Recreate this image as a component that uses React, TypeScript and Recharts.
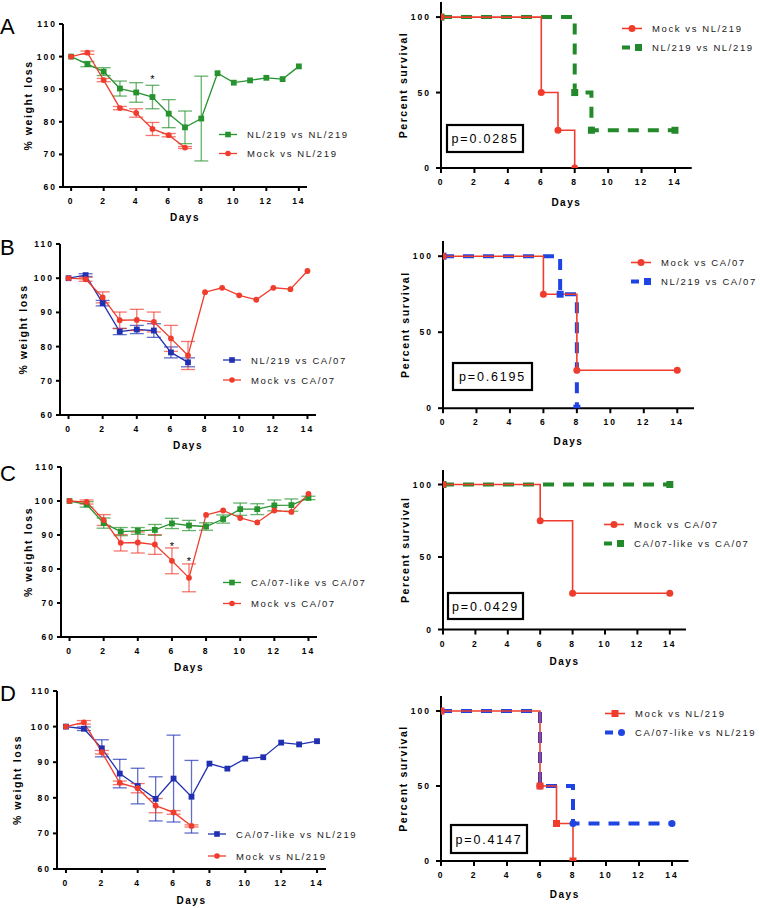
import React from 'react';
import { LineChart, Line, XAxis, YAxis, ErrorBar, Legend } from 'recharts';

const FONT = '"Liberation Sans", Arial, sans-serif';

const RED = '#f03c2d';
const GREEN = '#27932f';
const BLUE = '#2030b0';
const SURV_GREEN = '#23892a';
const SURV_BLUE = '#1f44e4';

const days = [0, 1, 2, 3, 4, 5, 6, 7, 8, 9, 10, 11, 12, 13, 14];
const dayTicks = [0, 2, 4, 6, 8, 10, 12, 14];
const weightTicks = [60, 70, 80, 90, 100, 110];
const survTicks = [0, 50, 100];

// body weight (% of day 0), mean and error
const nlNl219Mean = [100, 97.7, 95.4, 90.2, 89.0, 87.6, 82.5, 78.3, 81.0, 94.9, 92.0, 92.7, 93.5, 93.1, 97.0];
const nlNl219Err = [null, 0.8, 1.2, 2.3, 3.0, 3.6, 4.3, 5.0, 13.0, null, null, null, null, null, null];
const mockNl219Mean = [100, 101.2, 92.8, 84.2, 82.7, 77.8, 75.9, 72.1];
const mockNl219Err = [null, 0.5, 0.5, 0.5, 1.3, 2.0, 0.5, 0.3];
const nlCa07Mean = [100, 100.9, 92.7, 84.4, 85.0, 84.7, 78.3, 75.4];
const nlCa07Err = [null, 0.4, 0.8, 0.9, 1.2, 2.0, 1.6, 1.3];
const mockCa07Mean = [100, 99.7, 94.4, 87.7, 87.8, 87.2, 82.4, 77.4, 95.9, 97.2, 95.0, 93.7, 97.2, 96.8, 102.1];
const mockCa07Err = [null, 0.6, 1.6, 2.4, 3.1, 2.9, 3.8, 4.1, null, null, null, null, null, null, null];
const likeCa07Mean = [100, 99.0, 93.5, 91.0, 91.2, 91.5, 93.4, 92.8, 92.5, 94.7, 97.6, 97.6, 98.7, 98.8, 100.9];
const likeCa07Err = [null, 0.8, 1.5, 1.2, 1.0, 1.6, 1.5, 1.5, 1.1, 1.2, 1.8, 1.6, 1.6, 1.8, 0.5];
const likeNl219Mean = [100, 99.4, 93.9, 86.8, 83.3, 79.7, 85.4, 80.3, 89.6, 88.2, 91.0, 91.4, 95.5, 95.0, 95.9];
const likeNl219Err = [null, 0.5, 2.4, 4.0, 5.0, 6.2, 12.2, 10.2, null, null, null, null, null, null, null];

// survival steps
const mockNl219SurvDays = [0, 6, 7, 8];
const mockNl219Surv = [100, 50, 25, 0];
const nlNl219SurvDays = [0, 8, 9, 14];
const nlNl219Surv = [100, 50, 25, 25];
const mockCa07SurvDays = [0, 6, 8, 14];
const mockCa07Surv = [100, 75, 25, 25];
const nlCa07SurvDays = [0, 7, 8];
const nlCa07Surv = [100, 75, 0];
const likeCa07SurvDays = [0, 14];
const likeCa07Surv = [100, 100];
const likeNl219SurvDays = [0, 6, 8, 14];
const likeNl219Surv = [100, 50, 25, 25];

// significance marks
const starsADays = [5];
const starsAVals = [93.6];
const starsCDays = [6, 7];
const starsCVals = [87.3, 82.9];

const pValues = ['p=0.0285', 'p=0.6195', 'p=0.0429', 'p=0.4147'];
const panelLetters = ['A', 'B', 'C', 'D'];

type Row = { day: number; v: number; e?: number | null };
type Series = {
  name: string;
  color: string;
  rows: Row[];
  shape: 'square' | 'circle';
  style: 'weight' | 'solid' | 'dashed';
};
type PanelDef = {
  kind: 'weight' | 'surv';
  plotLeft: number;
  plotTop: number;
  plotW: number;
  plotH: number;
  right: number;
  titleDx: number;
  daysDy: number;
  legendX: number;
  legendY: number;
  rowH: number;
  series: Series[];
  stars?: Row[];
};

const toRows = (mean: number[], err: (number | null)[]): Row[] =>
  mean.map((v, i) => ({ day: days[i], v, e: err[i] }));
const toSteps = (d: number[], s: number[]): Row[] => d.map((day, i) => ({ day, v: s[i] }));

const panels: PanelDef[] = [
  {
    kind: 'weight', plotLeft: 63, plotTop: 24, plotW: 244, plotH: 163, right: 380,
    titleDx: 35, daysDy: 33.5, legendX: 219, legendY: 134, rowH: 19,
    series: [
      { name: 'NL/219 vs NL/219', color: GREEN, rows: toRows(nlNl219Mean, nlNl219Err), shape: 'square', style: 'weight' },
      { name: 'Mock vs NL/219', color: RED, rows: toRows(mockNl219Mean, mockNl219Err), shape: 'circle', style: 'weight' },
    ],
    stars: toSteps(starsADays, starsAVals),
  },
  {
    kind: 'surv', plotLeft: 441, plotTop: 2, plotW: 250.7, plotH: 166, right: 760,
    titleDx: 38, daysDy: 37.5, legendX: 622, legendY: 28, rowH: 19,
    series: [
      { name: 'Mock vs NL/219', color: RED, rows: toSteps(mockNl219SurvDays, mockNl219Surv), shape: 'circle', style: 'solid' },
      { name: 'NL/219 vs NL/219', color: SURV_GREEN, rows: toSteps(nlNl219SurvDays, nlNl219Surv), shape: 'square', style: 'dashed' },
    ],
  },
  {
    kind: 'weight', plotLeft: 59.5, plotTop: 244, plotW: 256, plotH: 171, right: 380,
    titleDx: 37, daysDy: 33.5, legendX: 223, legendY: 360, rowH: 20,
    series: [
      { name: 'NL/219 vs CA/07', color: BLUE, rows: toRows(nlCa07Mean, nlCa07Err), shape: 'square', style: 'weight' },
      { name: 'Mock vs CA/07', color: RED, rows: toRows(mockCa07Mean, mockCa07Err), shape: 'circle', style: 'weight' },
    ],
  },
  {
    kind: 'surv', plotLeft: 443, plotTop: 240.8, plotW: 251, plotH: 167.2, right: 760,
    titleDx: 38, daysDy: 36.5, legendX: 631, legendY: 263, rowH: 19,
    series: [
      { name: 'Mock vs CA/07', color: RED, rows: toSteps(mockCa07SurvDays, mockCa07Surv), shape: 'circle', style: 'solid' },
      { name: 'NL/219 vs CA/07', color: SURV_BLUE, rows: toSteps(nlCa07SurvDays, nlCa07Surv), shape: 'square', style: 'dashed' },
    ],
  },
  {
    kind: 'weight', plotLeft: 60.5, plotTop: 467, plotW: 256, plotH: 170, right: 380,
    titleDx: 33, daysDy: 33.5, legendX: 223, legendY: 582, rowH: 21,
    series: [
      { name: 'CA/07-like vs CA/07', color: GREEN, rows: toRows(likeCa07Mean, likeCa07Err), shape: 'square', style: 'weight' },
      { name: 'Mock vs CA/07', color: RED, rows: toRows(mockCa07Mean, mockCa07Err), shape: 'circle', style: 'weight' },
    ],
    stars: toSteps(starsCDays, starsCVals),
  },
  {
    kind: 'surv', plotLeft: 443, plotTop: 469.5, plotW: 243, plotH: 159.5, right: 760,
    titleDx: 38, daysDy: 35.5, legendX: 604, legendY: 524, rowH: 19,
    series: [
      { name: 'Mock vs CA/07', color: RED, rows: toSteps(mockCa07SurvDays, mockCa07Surv), shape: 'circle', style: 'solid' },
      { name: 'CA/07-like vs CA/07', color: SURV_GREEN, rows: toSteps(likeCa07SurvDays, likeCa07Surv), shape: 'square', style: 'dashed' },
    ],
  },
  {
    kind: 'weight', plotLeft: 57, plotTop: 691, plotW: 269, plotH: 178, right: 380,
    titleDx: 40, daysDy: 34.5, legendX: 208, legendY: 834, rowH: 22,
    series: [
      { name: 'CA/07-like vs NL/219', color: BLUE, rows: toRows(likeNl219Mean, likeNl219Err), shape: 'square', style: 'weight' },
      { name: 'Mock vs NL/219', color: RED, rows: toRows(mockNl219Mean, mockNl219Err), shape: 'circle', style: 'weight' },
    ],
  },
  {
    kind: 'surv', plotLeft: 441, plotTop: 696, plotW: 247.5, plotH: 165, right: 760,
    titleDx: 38, daysDy: 36.5, legendX: 605, legendY: 713, rowH: 19,
    series: [
      { name: 'Mock vs NL/219', color: RED, rows: toSteps(mockNl219SurvDays, mockNl219Surv), shape: 'square', style: 'solid' },
      { name: 'CA/07-like vs NL/219', color: SURV_BLUE, rows: toSteps(likeNl219SurvDays, likeNl219Surv), shape: 'circle', style: 'dashed' },
    ],
  },
];

// p-value boxes and panel letters (page coordinates)
const pBoxes = [
  { x: 447, y: 125, w: 76, h: 27 },
  { x: 453, y: 363, w: 79, h: 27 },
  { x: 448, y: 593, w: 75, h: 26 },
  { x: 451, y: 825, w: 76, h: 28 },
];
const letterY = [34, 255, 481, 701];

const makeDot = (shape: 'square' | 'circle', color: string, size: number) => (props: any) => {
  const { cx, cy, index } = props;
  if (cx == null || cy == null) return <g key={`d${index}`} />;
  return shape === 'square' ? (
    <rect key={`d${index}`} x={cx - size / 2} y={cy - size / 2} width={size} height={size} fill={color} />
  ) : (
    <circle key={`d${index}`} cx={cx} cy={cy} r={size / 2} fill={color} />
  );
};

const starDot = (props: any) => (
  <text key={`s${props.index}`} x={props.cx} y={props.cy + 5.5} textAnchor="middle" fontSize={11} fontFamily={FONT} fill="#000">
    *
  </text>
);

const DaysTitle = (props: any) => {
  const { viewBox, dy } = props;
  if (!viewBox) return null;
  return (
    <text
      x={viewBox.x + viewBox.width / 2}
      y={viewBox.y + dy}
      textAnchor="middle"
      fontSize={10}
      fontWeight={700}
      letterSpacing={1.5}
      fontFamily={FONT}
      fill="#000"
    >
      Days
    </text>
  );
};

const YTitle = (props: any) => {
  const { viewBox, dx, text, top, h } = props;
  if (!viewBox) return null;
  const cx = viewBox.x + viewBox.width - dx;
  const cy = top + h / 2;
  return (
    <text
      x={cx}
      y={cy}
      transform={`rotate(-90 ${cx} ${cy})`}
      textAnchor="middle"
      dominantBaseline="central"
      fontSize={10.5}
      fontWeight={700}
      letterSpacing={1.6}
      fontFamily={FONT}
      fill="#000"
    >
      {text}
    </text>
  );
};

function LegendBox({ series, rowH, surv }: { series: Series[]; rowH: number; surv: boolean }) {
  return (
    <div style={{ fontFamily: FONT, fontSize: 9.5, letterSpacing: 1.6, color: '#1a1a1a' }}>
      {series.map((s) => {
        const mid = rowH / 2;
        let swatch;
        if (!surv) {
          swatch = (
            <svg width={28} height={rowH} style={{ flex: 'none' }}>
              <line x1={0} x2={18} y1={mid} y2={mid} stroke={s.color} strokeWidth={1.3} />
              {s.shape === 'square' ? (
                <rect x={6.2} y={mid - 2.8} width={5.6} height={5.6} fill={s.color} />
              ) : (
                <circle cx={9} cy={mid} r={2.8} fill={s.color} />
              )}
            </svg>
          );
        } else if (s.style === 'dashed') {
          swatch = (
            <svg width={30} height={rowH} style={{ flex: 'none' }}>
              <line x1={0} x2={8} y1={mid} y2={mid} stroke={s.color} strokeWidth={4} />
              {s.shape === 'square' ? (
                <rect x={13} y={mid - 3.5} width={7} height={7} fill={s.color} />
              ) : (
                <circle cx={16.5} cy={mid} r={3.5} fill={s.color} />
              )}
            </svg>
          );
        } else {
          swatch = (
            <svg width={30} height={rowH} style={{ flex: 'none' }}>
              <line x1={0} x2={20} y1={mid} y2={mid} stroke={s.color} strokeWidth={1.6} />
              {s.shape === 'square' ? (
                <rect x={6.5} y={mid - 3.5} width={7} height={7} fill={s.color} />
              ) : (
                <circle cx={10} cy={mid} r={3.5} fill={s.color} />
              )}
            </svg>
          );
        }
        return (
          <div key={s.name} style={{ display: 'flex', alignItems: 'center', height: rowH, whiteSpace: 'nowrap' }}>
            {swatch}
            <span>{s.name}</span>
          </div>
        );
      })}
    </div>
  );
}

function Panel({ p }: { p: PanelDef }) {
  const weight = p.kind === 'weight';
  const YW = 50;
  const MT = 8;
  const XH = 45;
  const chartLeft = p.plotLeft - YW;
  const chartTop = p.plotTop - MT;
  const width = p.right - chartLeft;
  const height = MT + p.plotH + XH;
  const tickStyle = { fontSize: 8.5, fontWeight: 700, fill: '#000', fontFamily: FONT, letterSpacing: 2 };
  const axisStroke = { stroke: '#000', strokeWidth: 2 };
  // dashed survival curves go underneath the solid ones
  const drawOrder = weight ? p.series : [...p.series].sort((a, b) => (a.style === 'dashed' ? 0 : 1) - (b.style === 'dashed' ? 0 : 1));

  return (
    <div style={{ position: 'absolute', left: chartLeft, top: chartTop }}>
      <LineChart
        width={width}
        height={height}
        margin={{ top: MT, right: p.right - p.plotLeft - p.plotW, bottom: 0, left: 0 }}
      >
        <XAxis
          type="number"
          dataKey="day"
          domain={weight ? [-0.5, 14.5] : [0, 15]}
          ticks={dayTicks}
          allowDataOverflow
          height={XH}
          axisLine={axisStroke}
          tickLine={axisStroke}
          tickSize={weight ? 4 : 5}
          tickMargin={weight ? 7 : 6}
          tick={tickStyle}
          label={<DaysTitle dy={p.daysDy} />}
        />
        <YAxis
          type="number"
          domain={weight ? [60, 110] : [0, 110]}
          ticks={weight ? weightTicks : survTicks}
          allowDataOverflow
          width={YW}
          axisLine={axisStroke}
          tickLine={axisStroke}
          tickSize={weight ? 4 : 5}
          tickMargin={weight ? 2 : 5}
          tick={tickStyle}
          label={
            <YTitle
              text={weight ? '% weight loss' : 'Percent survival'}
              dx={p.titleDx}
              top={p.plotTop - chartTop}
              h={p.plotH}
            />
          }
        />
        {drawOrder.map((s) =>
          weight ? (
            <Line
              key={s.name}
              data={s.rows}
              dataKey="v"
              type="linear"
              stroke={s.color}
              strokeWidth={1.3}
              dot={makeDot(s.shape, s.color, 5.8)}
              activeDot={false}
              isAnimationActive={false}
            >
              <ErrorBar
                dataKey="e"
                direction="y"
                width={7}
                stroke={s.color}
                strokeWidth={1.3}
                strokeOpacity={0.7}
                isAnimationActive={false}
              />
            </Line>
          ) : (
            <Line
              key={s.name}
              data={s.rows}
              dataKey="v"
              type="stepAfter"
              stroke={s.color}
              strokeWidth={s.style === 'dashed' ? 4 : 1.6}
              strokeDasharray={s.style === 'dashed' ? '11 9' : undefined}
              dot={makeDot(s.shape, s.color, 7)}
              activeDot={false}
              isAnimationActive={false}
            />
          )
        )}
        {p.stars && (
          <Line
            data={p.stars}
            dataKey="v"
            stroke="none"
            dot={starDot}
            activeDot={false}
            isAnimationActive={false}
            legendType="none"
          />
        )}
        <Legend
          layout="horizontal"
          verticalAlign="middle"
          align="center"
          wrapperStyle={{
            left: p.legendX - chartLeft,
            top: p.legendY - p.rowH / 2 - chartTop,
            width: p.right - p.legendX,
            height: p.rowH * 2,
          }}
          content={() => <LegendBox series={p.series} rowH={p.rowH} surv={!weight} />}
        />
      </LineChart>
    </div>
  );
}

export default function App() {
  return (
    <div
      style={{
        position: 'absolute',
        left: 0,
        top: 0,
        width: 760,
        height: 908,
        overflow: 'hidden',
        background: '#fff',
        fontFamily: FONT,
      }}
    >
      {panels.map((p, i) => (
        <Panel key={i} p={p} />
      ))}
      <svg width={760} height={908} style={{ position: 'absolute', left: 0, top: 0, pointerEvents: 'none' }}>
        {panelLetters.map((l, i) => (
          <text key={l} x={0} y={letterY[i]} fontSize={22} fontFamily={FONT} fill="#000">
            {l}
          </text>
        ))}
        {pBoxes.map((b, i) => (
          <g key={i}>
            <rect x={b.x} y={b.y} width={b.w} height={b.h} fill="#fff" stroke="#000" strokeWidth={2.2} />
            <text
              x={b.x + b.w / 2}
              y={b.y + b.h / 2 + 4.5}
              textAnchor="middle"
              fontSize={12.5}
              letterSpacing={1.8}
              fontFamily={FONT}
              fill="#000"
            >
              {pValues[i]}
            </text>
          </g>
        ))}
      </svg>
    </div>
  );
}
